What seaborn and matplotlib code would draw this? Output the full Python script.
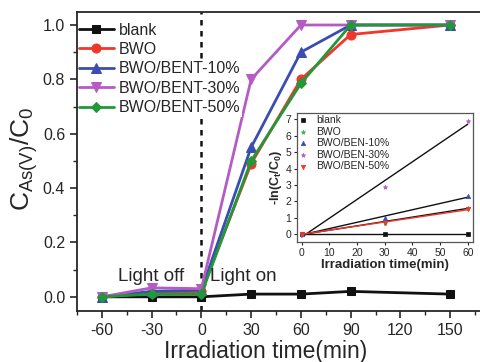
import numpy as np
import pandas as pd
import matplotlib
matplotlib.use("Agg")
import matplotlib.pyplot as plt
from matplotlib.ticker import MultipleLocator
import seaborn as sns

# main plot data
time = [-60, -30, 0, 30, 60, 90, 150]
blank = [0.0, 0.0, 0.0, 0.01, 0.01, 0.02, 0.01]
bwo = [0.0, 0.015, 0.02, 0.49, 0.80, 0.965, 1.0]
bent10 = [0.0, 0.02, 0.025, 0.55, 0.90, 1.0, 1.0]
bent30 = [0.0, 0.033, 0.03, 0.80, 1.0, 1.0, 1.0]
bent50 = [0.0, 0.01, 0.01, 0.50, 0.785, 1.0, 1.0]
labels = ["blank", "BWO", "BWO/BENT-10%", "BWO/BENT-30%", "BWO/BENT-50%"]

# inset: kinetics
t_in = [0, 30, 60]
k_blank = [0.0, 0.0, 0.0]
k_bwo = [0.0, 0.7, 1.6]
k_ben10 = [0.0, 1.0, 2.3]
k_ben30 = [0.0, 2.9, 6.9]
k_ben50 = [0.0, 0.7, 1.5]
in_labels = ["blank", "BWO", "BWO/BEN-10%", "BWO/BEN-30%", "BWO/BEN-50%"]

sns.set_style("ticks")
plt.rcParams["font.family"] = ["Liberation Sans", "DejaVu Sans"]
plt.rcParams["mathtext.fontset"] = "custom"
plt.rcParams["mathtext.rm"] = "Liberation Sans"
plt.rcParams["mathtext.it"] = "Liberation Sans"
plt.rcParams["mathtext.bf"] = "Liberation Sans:bold"
plt.rcParams["axes.unicode_minus"] = False

black = "#111111"
red = "#f0372a"
blue = "#3a4db0"
magenta = "#b45cc4"
green = "#23983a"

fig = plt.figure(figsize=(4.81, 3.62), dpi=100)
ax = fig.add_axes([0.160, 0.141, 0.845, 0.826])

series = [blank, bwo, bent10, bent30, bent50]
colors = [black, red, blue, magenta, green]
markers = ["s", "o", "^", "v", "D"]
sizes = [6, 6.5, 7, 7, 5.5]
for ys, lab, c, m, ms in zip(series, labels, colors, markers, sizes):
    sns.lineplot(x=time, y=ys, ax=ax, color=c, marker=m, markersize=ms,
                 markeredgecolor=c, linewidth=2, label=lab)

ax.axvline(0, color=black, linestyle=(0, (2.2, 2.2)), linewidth=1.8, zorder=0.5)

ax.set_xlim(-75, 170)
ax.set_ylim(-0.052, 1.048)
ax.set_xticks([-60, -30, 0, 30, 60, 90, 120, 150])
ax.set_yticks([0.0, 0.2, 0.4, 0.6, 0.8, 1.0])
ax.xaxis.set_minor_locator(MultipleLocator(15))
ax.yaxis.set_minor_locator(MultipleLocator(0.1))
ax.tick_params(which="major", direction="out", length=5, width=1.2, labelsize=11.5)
ax.tick_params(which="minor", direction="out", length=3, width=1)
for s in ax.spines.values():
    s.set_linewidth(1.3)

ax.set_xlabel("Irradiation time(min)", fontsize=16.5)
ax.xaxis.set_label_coords(0.463, -0.098)
ax.set_ylabel(r"C$_{\mathrm{As(V)}}$/C$_0$", fontsize=19)
ax.yaxis.set_label_coords(-0.09, 0.51)

ax.text(-30, 0.045, "Light off", fontsize=13.5, ha="center", va="bottom")
ax.text(5, 0.045, "Light on", fontsize=13.5, ha="left", va="bottom")

leg = ax.legend(loc="upper left", bbox_to_anchor=(0.0, 0.97), fontsize=11.5,
                frameon=False, borderpad=0.1, labelspacing=0.28,
                handlelength=2.2, handletextpad=0.3, borderaxespad=0)
for t in leg.get_texts():
    t.set_bbox(dict(facecolor="white", edgecolor="none", pad=1.5))

# inset
axin = fig.add_axes([0.617, 0.331, 0.366, 0.357])
in_series = [k_blank, k_bwo, k_ben10, k_ben30, k_ben50]
in_colors = [black, "#3fb34a", blue, magenta, red]
in_markers = ["s", "*", "^", "*", "v"]
fit_colors = [black, black, black, black, red]
for ys, lab, c, m, fc in zip(in_series, in_labels, in_colors, in_markers, fit_colors):
    sns.scatterplot(x=t_in, y=ys, ax=axin, color=c, marker=m, s=10,
                    edgecolor=c, linewidth=0.5, label=lab, zorder=3)
    sns.regplot(x=np.array(t_in), y=np.array(ys), ax=axin, scatter=False, ci=None,
                color=fc, line_kws={"linewidth": 1})

axin.set_xlim(-1.8, 61.8)
axin.set_ylim(-0.5, 7.4)
axin.set_xticks(range(0, 61, 10))
axin.set_yticks(range(0, 8))
axin.tick_params(direction="out", length=2.5, width=0.8, labelsize=7.5, pad=1.5)
for s in axin.spines.values():
    s.set_linewidth(0.9)
    s.set_color("#555555")
axin.set_xlabel("Irradiation time(min)", fontsize=9.5, fontweight="bold", labelpad=1)
axin.set_ylabel(r"-ln(C$_\mathbf{t}$/C$_\mathbf{0}$)", fontsize=9, fontweight="bold", labelpad=1)
lin = axin.legend(loc="upper left", fontsize=7.5, frameon=False, borderpad=0.1,
                  labelspacing=0.15, handlelength=0.8, handletextpad=0.9,
                  borderaxespad=0.1, markerscale=1)

fig.savefig("out.png", dpi=100)
